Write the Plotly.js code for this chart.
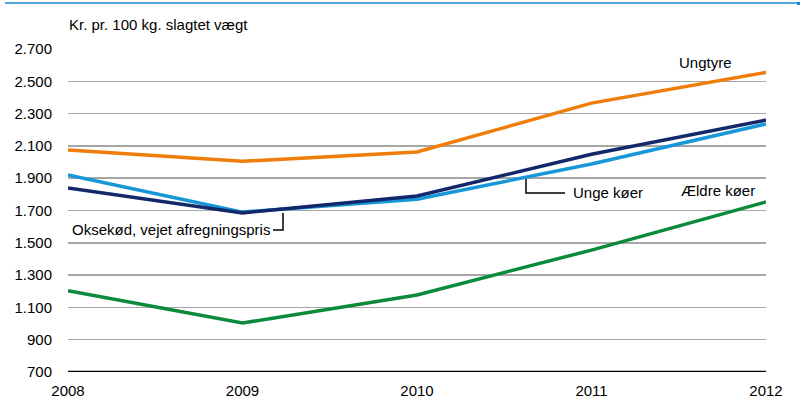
<!DOCTYPE html>
<html><head><meta charset="utf-8">
<script src="https://cdn.plot.ly/plotly-3.0.1.min.js"></script>
<style>html,body{margin:0;padding:0;background:#fff}#c{width:802px;height:412px}</style>
</head><body><div id="c"></div>
<script>
const years = [2008, 2009, 2010, 2011, 2012];
const ungtyre = [2075, 2005, 2062, 2365, 2555];
const oksekod = [1840, 1685, 1790, 2048, 2260];
const ungeKoer = [1920, 1690, 1770, 1988, 2236];
const aeldreKoer = [1203, 1003, 1177, 1455, 1753];
const yTicks = [700, 900, 1100, 1300, 1500, 1700, 1900, 2100, 2300, 2500, 2700];
const yTickText = ["700", "900", "1.100", "1.300", "1.500", "1.700", "1.900", "2.100", "2.300", "2.500", "2.700"];

const FONT = '"Liberation Sans", Arial, sans-serif';
const L = 68, R = 766, T = 49, B = 372;
const px = x => (x - L) / (R - L);
const py = y => (B - y) / (B - T);

function tr(y, color) {
  return {x: years, y: y, type: 'scatter', mode: 'lines', line: {color: color, width: 3.5}, hoverinfo: 'skip'};
}
const data = [
  tr(aeldreKoer, '#0b8a3c'),
  tr(ungeKoer, '#1797d8'),
  tr(oksekod, '#13286b'),
  tr(ungtyre, '#f07c0a')
];

const lineStyle = {color: '#000', width: 1.5};
const layout = {
  width: 802, height: 412,
  margin: {l: L, r: 802 - R, t: T, b: 412 - B, pad: 0},
  paper_bgcolor: '#fff', plot_bgcolor: '#fff',
  showlegend: false,
  font: {family: FONT, size: 15, color: '#000'},
  xaxis: {
    range: [2008, 2012], tickvals: years, ticktext: years.map(String),
    showgrid: false, zeroline: false, showline: false, ticks: '',
    ticklabelstandoff: 8,
    tickfont: {family: FONT, size: 15, color: '#000'}
  },
  yaxis: {
    range: [700, 2700], tickvals: yTicks, ticktext: yTickText,
    showgrid: true, gridcolor: '#a6a6a6', gridwidth: 1.5, zeroline: false, showline: false, ticks: '',
    ticklabelstandoff: 15,
    tickfont: {family: FONT, size: 15, color: '#000'}
  },
  shapes: [
    {type: 'line', xref: 'paper', yref: 'y', x0: 0, x1: 1, y0: 700, y1: 700, line: {color: '#000', width: 2.5}, layer: 'above'},
    {type: 'line', xref: 'paper', yref: 'paper', x0: px(5), x1: px(797), y0: py(3), y1: py(3), line: {color: '#1a8ad0', width: 1.5}},
    {type: 'rect', xref: 'paper', yref: 'paper', x0: px(797), x1: px(800), y0: py(2), y1: py(5), line: {width: 0}, fillcolor: '#1a8ad0'},
    {type: 'path', xref: 'paper', yref: 'paper', path: `M ${px(526)} ${py(179)} L ${px(526)} ${py(193)} L ${px(565)} ${py(193)}`, line: lineStyle},
    {type: 'path', xref: 'paper', yref: 'paper', path: `M ${px(273)} ${py(230)} L ${px(283)} ${py(230)} L ${px(283)} ${py(213)}`, line: lineStyle}
  ],
  annotations: [
    {text: 'Kr. pr. 100 kg. slagtet vægt', xref: 'paper', yref: 'paper', x: px(67), y: py(24), xanchor: 'left', yanchor: 'middle', showarrow: false, font: {size: 15}},
    {text: 'Ungtyre', xref: 'paper', yref: 'paper', x: px(705), y: py(63), xanchor: 'center', yanchor: 'middle', showarrow: false, font: {size: 15}},
    {text: 'Unge køer', xref: 'paper', yref: 'paper', x: px(571), y: py(192), xanchor: 'left', yanchor: 'middle', showarrow: false, font: {size: 15}},
    {text: 'Ældre køer', xref: 'paper', yref: 'paper', x: px(679), y: py(190), xanchor: 'left', yanchor: 'middle', showarrow: false, font: {size: 15}},
    {text: 'Oksekød, vejet afregningspris', xref: 'paper', yref: 'paper', x: px(70), y: py(229), xanchor: 'left', yanchor: 'middle', showarrow: false, font: {size: 15}}
  ]
};
Plotly.newPlot('c', data, layout, {staticPlot: true, displayModeBar: false});
</script></body></html>
